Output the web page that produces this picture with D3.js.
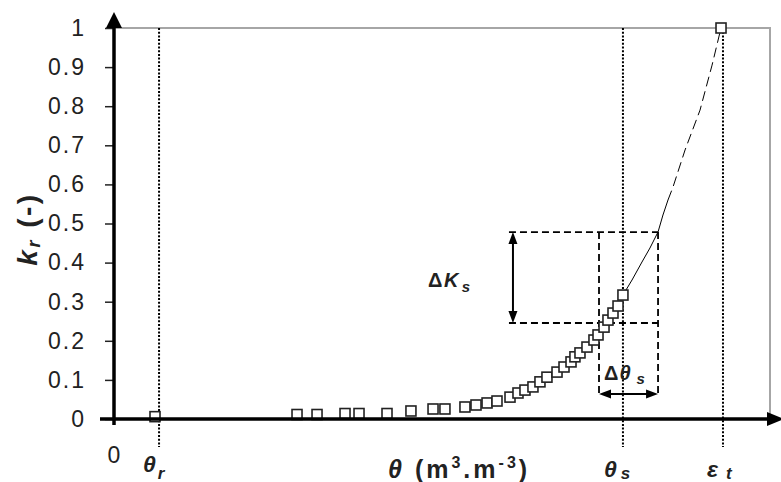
<!DOCTYPE html>
<html>
<head>
<meta charset="utf-8">
<script src="https://cdn.jsdelivr.net/npm/d3@7"></script>
<style>
  body { margin: 0; background: #fff; }
  svg { display: block; font-family: "Liberation Sans", Arial, sans-serif; }
</style>
</head>
<body>
<div id="chart"></div>
<script>
// measured points (theta, kr)
var theta = [0.0375, 0.1674, 0.1857, 0.2113, 0.2241, 0.2497, 0.2716, 0.2918, 0.3027,
  0.3210, 0.3311, 0.3412, 0.3503, 0.3622, 0.3695, 0.3759, 0.3832, 0.3896, 0.3960,
  0.4052, 0.4116, 0.4180, 0.4216, 0.4262, 0.4326, 0.4390, 0.4427, 0.4482, 0.4518,
  0.4564, 0.4610, 0.4655, 0.5552];
var kr = [0.006, 0.0115, 0.0115, 0.014, 0.014, 0.014, 0.0205, 0.0256, 0.0256,
  0.0307, 0.0358, 0.041, 0.046, 0.056, 0.0665, 0.074, 0.082, 0.095, 0.107,
  0.120, 0.133, 0.146, 0.159, 0.169, 0.184, 0.202, 0.215, 0.235, 0.253,
  0.271, 0.289, 0.317, 1.0];

// fitted curve: solid part then dashed extrapolation
var fitTheta = [0.4655, 0.4738, 0.4829, 0.4902, 0.4976, 0.5021, 0.5067];
var fitKr = [0.317, 0.3555, 0.4015, 0.4373, 0.4783, 0.5217, 0.5601];
var extTheta = [0.5067, 0.5113, 0.5223, 0.5360, 0.5470, 0.5552];
var extKr = [0.5601, 0.5934, 0.688, 0.790, 0.905, 1.0];

var yTicks = [0, 0.1, 0.2, 0.3, 0.4, 0.5, 0.6, 0.7, 0.8, 0.9, 1];
var yTickLabels = ['0', '0.1', '0.2', '0.3', '0.4', '0.5', '0.6', '0.7', '0.8', '0.9', '1'];

var thetaR = 0.0412, thetaS = 0.4655, epsT = 0.557;
var boxTheta = [0.4436, 0.4976], boxKr = [0.2455, 0.478];
var dKsTheta = 0.3649, boxFloor = 0.0665, dThKr = 0.064;

var width = 781, height = 482;
var x = d3.scaleLinear().domain([0, 0.6]).range([114, 770]);
var y = d3.scaleLinear().domain([0, 1]).range([419, 28]);

var svg = d3.select('#chart').append('svg')
    .attr('width', width)
    .attr('height', height);

svg.append('rect').attr('width', width).attr('height', height).attr('fill', '#fff');

// grey plot frame
svg.append('path')
   .attr('d', 'M' + x(0) + ',' + y(1) + 'H' + x(0.6) + 'V' + y(0))
   .attr('fill', 'none')
   .attr('stroke', '#a6a6a6')
   .attr('stroke-width', 2);

// y axis ticks + labels
var yAxis = svg.append('g')
    .attr('transform', 'translate(' + x(0) + ',0)')
    .call(d3.axisLeft(y).tickValues(yTicks).tickSize(9).tickPadding(19)
      .tickFormat(function(d, i) { return yTickLabels[i]; }));
yAxis.select('.domain').remove();
yAxis.selectAll('line').attr('stroke', '#222').attr('stroke-width', 1.5);
yAxis.selectAll('text')
     .attr('fill', '#222')
     .style('font-size', '23px')
     .style('letter-spacing', '2px');

// dotted reference lines
[thetaR, thetaS, epsT].forEach(function(t) {
  svg.append('line')
     .attr('x1', x(t)).attr('x2', x(t))
     .attr('y1', y(1)).attr('y2', y(0) + 28)
     .attr('stroke', '#000')
     .attr('stroke-width', 2)
     .attr('stroke-dasharray', '2,1.7');
});

// dashed construction box
var box = svg.append('g')
    .attr('fill', 'none')
    .attr('stroke', '#000')
    .attr('stroke-width', 1.8)
    .attr('stroke-dasharray', '7,4');
box.append('line').attr('x1', x(dKsTheta) - 4).attr('x2', x(boxTheta[1]))
   .attr('y1', y(boxKr[1])).attr('y2', y(boxKr[1]));
box.append('line').attr('x1', x(dKsTheta) - 4).attr('x2', x(boxTheta[1]))
   .attr('y1', y(boxKr[0])).attr('y2', y(boxKr[0]));
boxTheta.forEach(function(t) {
  box.append('line').attr('x1', x(t)).attr('x2', x(t))
     .attr('y1', y(boxKr[1])).attr('y2', y(boxFloor));
});

// curve
var line = d3.line().x(function(d) { return x(d[0]); }).y(function(d) { return y(d[1]); });
svg.append('path')
   .attr('d', line(d3.zip(fitTheta, fitKr)))
   .attr('fill', 'none').attr('stroke', '#000').attr('stroke-width', 1);
svg.append('path')
   .attr('d', line(d3.zip(extTheta, extKr)))
   .attr('fill', 'none').attr('stroke', '#000').attr('stroke-width', 1)
   .attr('stroke-dasharray', '10,5');

// double arrows
function arrow(x1, y1, x2, y2) {
  var a = Math.atan2(y2 - y1, x2 - x1), L = 12, W = 4.5;
  svg.append('line')
     .attr('x1', x1 + Math.cos(a) * 6).attr('y1', y1 + Math.sin(a) * 6)
     .attr('x2', x2 - Math.cos(a) * 6).attr('y2', y2 - Math.sin(a) * 6)
     .attr('stroke', '#000').attr('stroke-width', 2);
  [[x1, y1, a + Math.PI], [x2, y2, a]].forEach(function(p) {
    var c = Math.cos(p[2]), s = Math.sin(p[2]);
    var bx = p[0] - c * L, by = p[1] - s * L;
    svg.append('path')
       .attr('d', 'M' + p[0] + ',' + p[1] + 'L' + (bx - s * W) + ',' + (by + c * W) +
             'L' + (bx + s * W) + ',' + (by - c * W) + 'Z')
       .attr('fill', '#000');
  });
}
arrow(x(dKsTheta), y(boxKr[1]), x(dKsTheta), y(boxKr[0]));
arrow(x(boxTheta[0]), y(dThKr), x(boxTheta[1]), y(dThKr));

// data squares
svg.append('g').selectAll('rect')
   .data(d3.zip(theta, kr))
   .enter().append('rect')
   .attr('x', function(d) { return x(d[0]) - 5; })
   .attr('y', function(d) { return y(d[1]) - 5; })
   .attr('width', 10)
   .attr('height', 10)
   .attr('fill', '#fff')
   .attr('stroke', '#222')
   .attr('stroke-width', 1.6);

// main axes with arrow heads
svg.append('line')
   .attr('x1', x(0)).attr('x2', x(0))
   .attr('y1', y(0) + 6).attr('y2', y(1) - 2)
   .attr('stroke', '#000').attr('stroke-width', 3.5);
svg.append('path')
   .attr('d', 'M' + x(0) + ',12L' + (x(0) - 8) + ',' + y(1) + 'L' + (x(0) + 8) + ',' + y(1) + 'Z')
   .attr('fill', '#000');
svg.append('line')
   .attr('x1', x(0) - 14).attr('x2', 768)
   .attr('y1', y(0)).attr('y2', y(0))
   .attr('stroke', '#000').attr('stroke-width', 3.5);
svg.append('path')
   .attr('d', 'M784,' + y(0) + 'L767,' + (y(0) - 7) + 'L767,' + (y(0) + 7) + 'Z')
   .attr('fill', '#000');

// labels
function label(xp, yp, parts, size, ls) {
  var t = svg.append('text')
      .attr('x', xp).attr('y', yp)
      .attr('fill', '#222')
      .style('font-size', size + 'px')
      .style('font-weight', 'bold')
      .style('letter-spacing', (ls || 0) + 'px');
  parts.forEach(function(p) {
    var ts = t.append('tspan').text(p.t);
    if (p.i) ts.style('font-style', 'italic');
    if (p.s) ts.style('font-size', p.s + 'px');
    if (p.dy) ts.attr('dy', p.dy);
    if (p.dx) ts.attr('dx', p.dx);
  });
  return t;
}

svg.append('text')
   .attr('x', x(0)).attr('y', 463)
   .attr('text-anchor', 'middle')
   .attr('fill', '#222')
   .style('font-size', '23px')
   .text('0');

label(x(thetaR) - 16, 472, [{t: 'θ', i: 1}, {t: 'r', i: 1, s: 17, dy: 7, dx: 2}], 23);
label(x(thetaS) - 19, 477, [{t: 'θ', i: 1}, {t: 's', i: 1, s: 17, dy: 2, dx: 4}], 23);
label(x(epsT) - 16, 477, [{t: 'ε', i: 1}, {t: 't', i: 1, s: 17, dy: 2, dx: 8}], 23);
label(388, 478, [{t: 'θ', i: 1}, {t: ' (m'}, {t: '3', s: 16, dy: -10}, {t: '.m', dy: 10},
  {t: '-3', s: 16, dy: -10}, {t: ')', dy: 10}], 25, 3);

label(428, 287, [{t: 'Δ'}, {t: 'K', i: 1}, {t: 's', i: 1, s: 15, dy: 5, dx: 2}], 20, 1.5);
label(604, 380, [{t: 'Δ'}, {t: 'θ', i: 1}, {t: 's', i: 1, s: 15, dy: 4, dx: 5}], 20, 1);

// y axis title
label(0, 0, [{t: 'k', i: 1}, {t: 'r', i: 1, s: 18, dy: 3}, {t: ' (-)', dy: -3}], 28, 2.5)
   .attr('text-anchor', 'middle')
   .attr('transform', 'translate(37,229) rotate(-90)');
</script>
</body>
</html>
